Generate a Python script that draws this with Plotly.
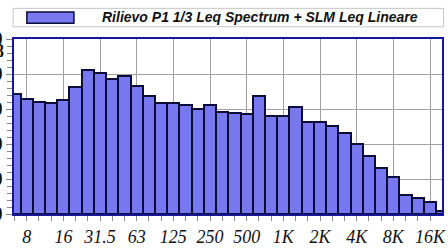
import plotly.graph_objects as go

# 1/3 octave band centres (Hz) and measured levels
bands = ["6.3", "8", "10", "12.5", "16", "20", "25", "31.5", "40", "50", "63", "80",
         "100", "125", "160", "200", "250", "315", "400", "500", "630", "800", "1K",
         "1.25K", "1.6K", "2K", "2.5K", "3.15K", "4K", "5K", "6.3K", "8K", "10K",
         "12.5K", "16K", "20K"]
levels = [68.4, 65.5, 63.8, 63.3, 65.0, 72.4, 82.1, 80.4, 77.0, 79.0, 73.1, 67.3,
          63.6, 63.3, 62.5, 60.2, 62.5, 58.5, 57.5, 57.0, 67.4, 56.2, 56.2,
          60.9, 52.4, 52.4, 50.5, 46.5, 40.2, 33.1, 26.3, 21.1, 10.7,
          9.3, 6.7, 1.5]
tick_labels = ["8", "16", "31.5", "63", "125", "250", "500", "1K", "2K", "4K", "8K", "16K"]
y_ticks = [0, 20, 40, 60, 80, 100]
series_name = "Rilievo P1 1/3 Leq Spectrum + SLM Leq Lineare"

x_idx = list(range(len(bands)))
tick_pos = [bands.index(t) for t in tick_labels]

fill = "#7878f0"
edge = "#0c0c38"
border = "#16169a"

fig = go.Figure(go.Bar(
    x=x_idx, y=levels, width=1, name=series_name,
    marker=dict(color=fill, line=dict(color=edge, width=2)),
    hovertext=bands, showlegend=False,
))

tick_font = dict(family="Liberation Serif", size=18, color="#111111", style="italic")

fig.update_layout(
    width=448, height=248,
    margin=dict(l=14, r=6, t=39, b=34),
    paper_bgcolor="white", plot_bgcolor="white",
    bargap=0,
    xaxis=dict(
        range=[-0.04, 34.98], automargin=False,
        tickmode="array", tickvals=tick_pos, ticktext=tick_labels,
        tickfont=tick_font,
        ticks="outside", ticklen=5, tickcolor="#888888",
        showgrid=True, gridcolor="#a0a0a0", gridwidth=1,
        showline=True, linecolor=border, linewidth=2, mirror=True,
        minor=dict(dtick=1, tick0=0, ticks="outside", ticklen=5, tickcolor="#888888", showgrid=False),
        zeroline=False,
    ),
    yaxis=dict(
        range=[0, 100], automargin=False,
        tickmode="array", tickvals=y_ticks, ticktext=[str(v) for v in y_ticks],
        tickfont=dict(family="Liberation Serif", size=18, color="#111111", weight="bold"),
        ticks="outside", ticklen=6, tickcolor="#888888",
        showgrid=True, gridcolor="#a0a0a0", gridwidth=1,
        showline=True, linecolor=border, linewidth=2, mirror=True,
        minor=dict(dtick=4, tick0=0, ticks="outside", ticklen=5, tickcolor="#888888", showgrid=False),
        zeroline=False,
    ),
    shapes=[
        dict(type="rect", xref="paper", yref="paper",
             x0=-0.002, x1=1.0035, y0=1.07, y1=1.175,
             line=dict(color="#c8c8c8", width=1), fillcolor="white", layer="above"),
        dict(type="rect", xref="paper", yref="paper",
             x0=0.03, x1=0.14, y0=1.09, y1=1.155,
             line=dict(color=edge, width=1.5), fillcolor=fill, layer="above"),
    ],
    annotations=[
        dict(text="<b><i>" + series_name + "</i></b>", xref="paper", yref="paper",
             x=0.575, y=1.125, xanchor="center", yanchor="middle", showarrow=False,
             font=dict(family="Liberation Sans", size=14, color="#111111")),
        dict(text="8", xref="paper", yref="y", x=-0.0185, y=93, xanchor="right", yanchor="middle",
             showarrow=False,
             font=dict(family="Liberation Serif", size=18, color="#111111", weight="bold")),
    ],
)

fig.write_html("out.html", config={"displayModeBar": False},
               post_script="document.body.style.margin='0';")
